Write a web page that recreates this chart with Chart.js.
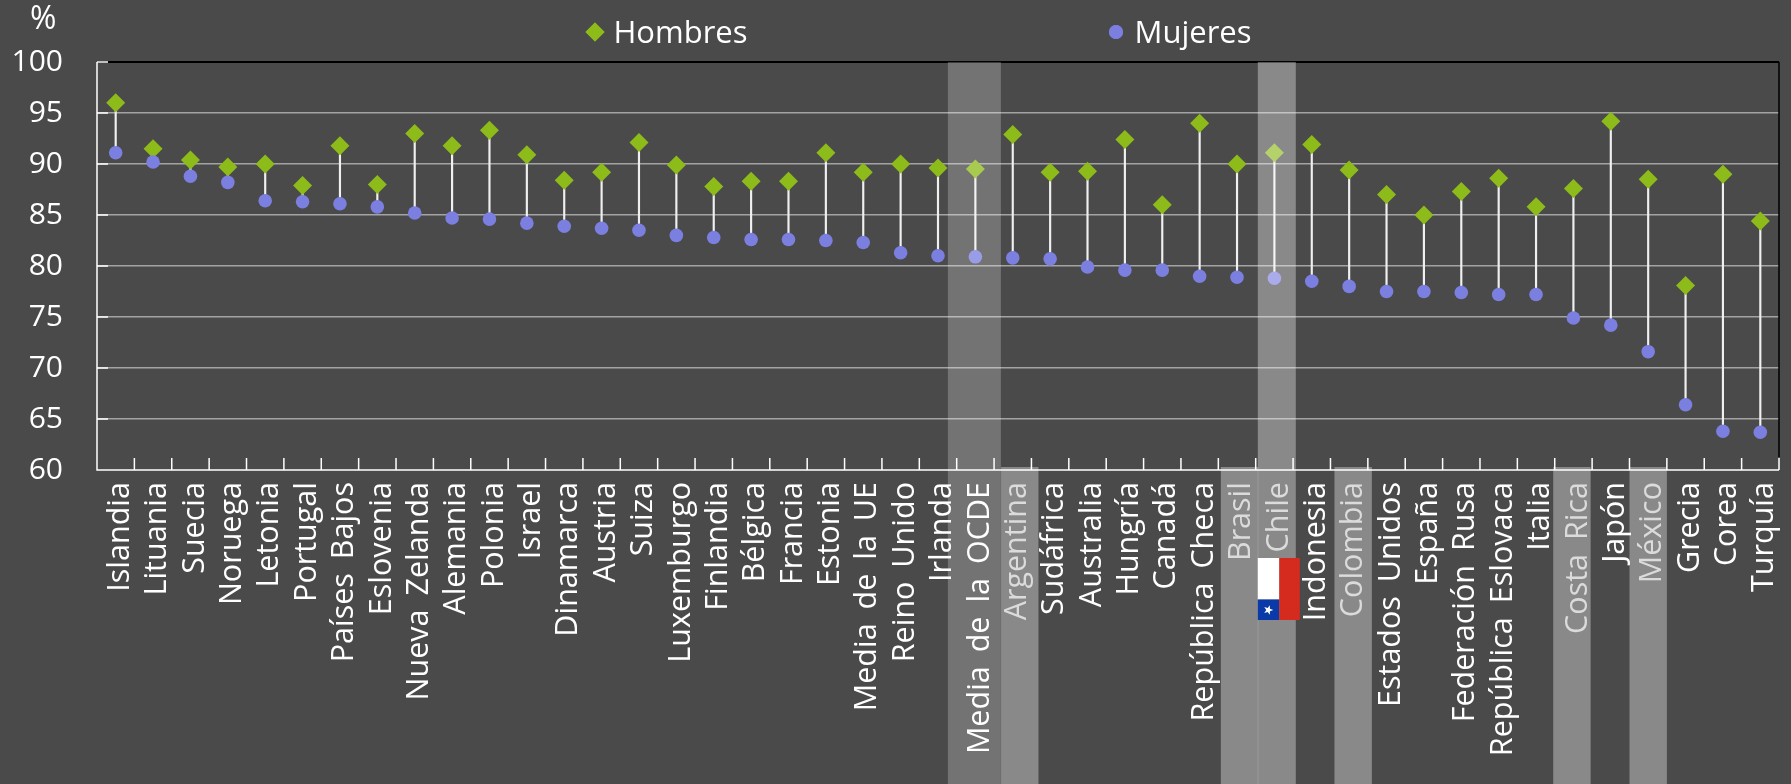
<!DOCTYPE html>
<html><head><meta charset="utf-8">
<style>html,body{margin:0;padding:0;background:#4a4a4a}canvas{display:block}</style>
<script src="https://cdn.jsdelivr.net/npm/chart.js@4/dist/chart.umd.min.js"></script>
</head><body>
<div style="position:relative;width:1791px;height:784px"><canvas id="c" width="1791" height="784"></canvas></div>
<script>
const categories = ["Islandia","Lituania","Suecia","Noruega","Letonia","Portugal","Países Bajos","Eslovenia","Nueva Zelanda","Alemania","Polonia","Israel","Dinamarca","Austria","Suiza","Luxemburgo","Finlandia","Bélgica","Francia","Estonia","Media de la UE","Reino Unido","Irlanda","Media de la OCDE","Argentina","Sudáfrica","Australia","Hungría","Canadá","República Checa","Brasil","Chile","Indonesia","Colombia","Estados Unidos","España","Federación Rusa","República Eslovaca","Italia","Costa Rica","Japón","México","Grecia","Corea","Turquía"];
const hombres = [96.0,91.5,90.4,89.7,90.0,87.9,91.8,88.0,93.0,91.8,93.3,90.9,88.4,89.2,92.1,89.9,87.8,88.3,88.3,91.1,89.2,90.0,89.6,89.5,92.9,89.2,89.3,92.4,86.0,94.0,90.0,91.1,91.9,89.4,87.0,85.0,87.3,88.6,85.8,87.6,94.2,88.5,78.1,89.0,84.4];
const mujeres = [91.1,90.2,88.8,88.2,86.4,86.3,86.1,85.8,85.2,84.7,84.6,84.2,83.9,83.7,83.5,83.0,82.8,82.6,82.6,82.5,82.3,81.3,81.0,80.9,80.8,80.7,79.9,79.6,79.6,79.0,78.9,78.8,78.5,78.0,77.5,77.5,77.4,77.2,77.2,74.9,74.2,71.6,66.4,63.8,63.7];
const yTicks = [60,65,70,75,80,85,90,95,100];
const lowerBands = ["Argentina","Brasil","Colombia","Costa Rica","México"];
const FONT = "'Open Sans'";
const GREEN = "#8dbb1a", PURPLE = "#7b7fe0", WHITE = "#ffffff", GRID = "#a3a3a3";
const bandShift = {"Argentina":7,"Brasil":2.5,"Colombia":4,"Costa Rica":-1.5,"México":0};

const decor = {
  id: "decor",
  beforeDraw(chart) { chart.ctx.wordSpacing = "6px"; },
  afterDatasetsDraw(chart) {
    const {ctx, scales:{x,y}, chartArea:a} = chart;
    const slot = x.getPixelForValue(1) - x.getPixelForValue(0);
    ctx.save();
    ctx.strokeStyle = "#000"; ctx.lineWidth = 1.5;
    ctx.beginPath(); ctx.moveTo(a.right, a.top); ctx.lineTo(a.right, a.bottom - 13); ctx.stroke();
    ctx.strokeStyle = WHITE;
    ctx.beginPath();
    ctx.moveTo(a.left, a.top); ctx.lineTo(a.left, a.bottom); ctx.lineTo(a.right, a.bottom);
    yTicks.forEach(v => { const p = y.getPixelForValue(v); ctx.moveTo(a.left, p); ctx.lineTo(a.left + 11, p); });
    categories.forEach((c, i) => { const p = x.getPixelForValue(i) + slot/2; ctx.moveTo(p, a.bottom); ctx.lineTo(p, a.bottom - 12); });
    ctx.stroke();
    ctx.restore();
  },
  afterDraw(chart) {
    const {ctx, scales:{x,y}, chartArea:a, height} = chart;
    ctx.save();
    // highlight overlays
    ctx.fillStyle = "rgba(255,255,255,0.35)";
    lowerBands.forEach(n => { const p = x.getPixelForValue(categories.indexOf(n)) + bandShift[n]; const t = a.bottom - 3; ctx.fillRect(p - 18.7, t, 37.4, height - t); });
    const ci = x.getPixelForValue(categories.indexOf("Chile")) + 2.4;
    ctx.fillRect(ci - 19, a.top, 38, height - a.top);
    const oi = x.getPixelForValue(categories.indexOf("Media de la OCDE"));
    ctx.fillStyle = "rgba(255,255,255,0.23)";
    ctx.fillRect(oi - 27.5, a.top, 53, height - a.top);
    // Chilean flag, rotated as in the source
    const fx = ci - 19, fy = 558;
    ctx.fillStyle = "#ffffff"; ctx.fillRect(fx, fy, 21.5, 41.5);
    ctx.fillStyle = "#0a3aa8"; ctx.fillRect(fx, fy + 41.5, 21.5, 20.5);
    ctx.fillStyle = "#d52b1e"; ctx.fillRect(fx + 21.5, fy, 20.5, 62);
    const sx = fx + 10.5, sy = fy + 52;
    ctx.fillStyle = "#fff"; ctx.beginPath();
    for (let k = 0; k < 10; k++) { const r = k % 2 ? 2 : 5, t = k*Math.PI/5;
      const px = sx + r*Math.cos(t), py = sy + r*Math.sin(t); k ? ctx.lineTo(px, py) : ctx.moveTo(px, py); }
    ctx.fill();
    // % label
    ctx.fillStyle = WHITE; ctx.textAlign = "left"; ctx.textBaseline = "alphabetic";
    ctx.font = "32px " + FONT;
    ctx.fillText("%", 30, 29);
    // legend
    const ds = chart.data.datasets;
    ctx.font = "31px " + FONT;
    [[595,613.5],[1116,1134.5]].forEach(([mx,tx],i) => {
      ctx.fillStyle = ds[i].backgroundColor;
      Chart.helpers.drawPoint(ctx, {pointStyle: ds[i].pointStyle, rotation:0, radius: i===0?9.5:7, borderWidth:0}, mx, 32);
      ctx.fill();
      ctx.fillStyle = WHITE;
      ctx.fillText(ds[i].label, tx, 43);
    });
    ctx.restore();
  }
};

new Chart(document.getElementById("c"), {
  data: {
    labels: categories,
    datasets: [
      {type:"scatter", showLine:false, label:"Hombres", data:hombres.map((v,i)=>({x:categories[i],y:v})), pointStyle:"rectRot", pointRadius:9.5, pointHoverRadius:9.5, backgroundColor:GREEN, borderColor:GREEN, borderWidth:0, order:2},
      {type:"scatter", showLine:false, label:"Mujeres", data:mujeres.map((v,i)=>({x:categories[i],y:v})), pointStyle:"circle", pointRadius:6.8, pointHoverRadius:6.8, backgroundColor:PURPLE, borderColor:PURPLE, borderWidth:0, order:1},
      {type:"bar", label:"Rango", data:hombres.map((v,i)=>[mujeres[i],v]), backgroundColor:"#f0f0f0", barThickness:1.5, order:3}
    ]
  },
  options: {
    responsive:false, animation:false, devicePixelRatio:1,
    layout:{padding:{top:62,left:0,right:12,bottom:0}},
    plugins:{ tooltip:{enabled:false}, legend:{display:false} },
    scales:{
      x:{type:"category", offset:true, grid:{display:false,drawTicks:false}, border:{display:false},
        afterFit(s){s.height=314;s.paddingLeft=0;s.paddingRight=0;},
        ticks:{color:c=>{const n=categories[c.index];return (lowerBands.includes(n)||n==="Chile")?"#c8c8c8":WHITE;},font:{family:FONT,size:30.5},minRotation:90,maxRotation:90,autoSkip:false,padding:12,labelOffset:4.5}},
      y:{type:"linear", min:60, max:100, afterFit(s){s.width=97;s.paddingTop=0;s.paddingBottom=0;},
        afterBuildTicks(s){s.ticks=yTicks.map(v=>({value:v}));},
        grid:{color:c=>c.tick.value===100?"#000":(c.tick.value===60?"transparent":GRID), lineWidth:c=>c.tick.value===100?2:1.5, drawTicks:false},
        border:{display:false},
        ticks:{color:WHITE,font:{family:FONT,size:30},padding:34}}
    }
  },
  plugins:[decor]
});
</script>
</body></html>
